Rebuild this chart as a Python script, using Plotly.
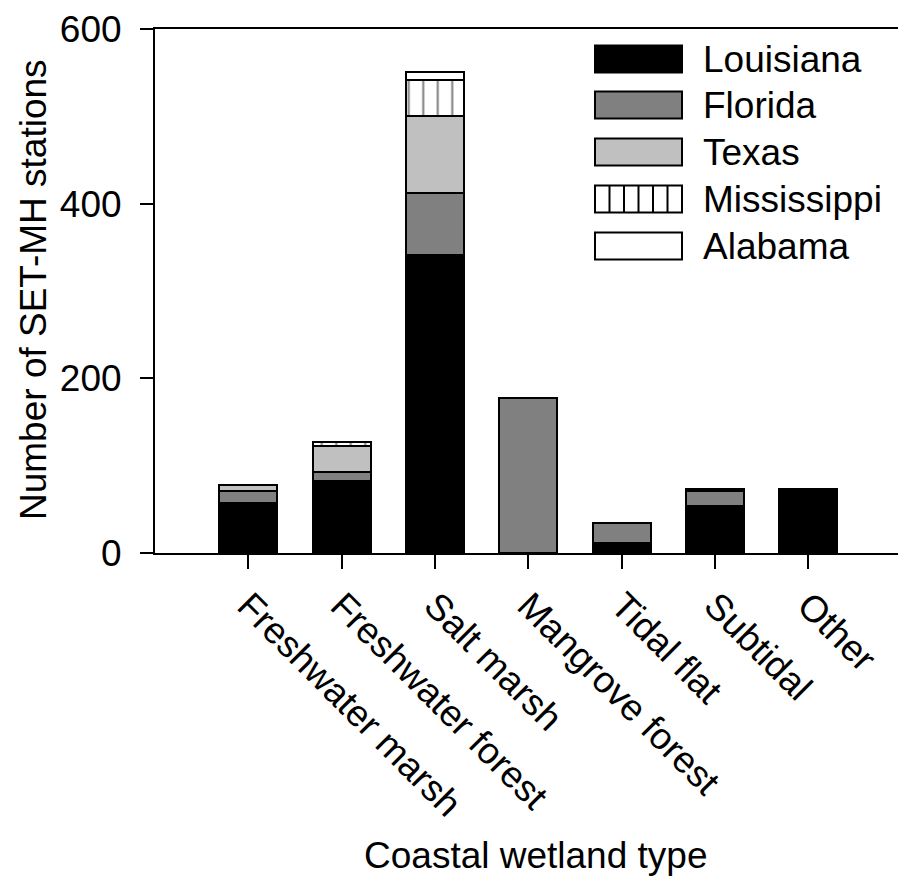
import plotly.graph_objects as go

categories = ["Freshwater marsh", "Freshwater forest", "Salt marsh", "Mangrove forest",
              "Tidal flat", "Subtidal", "Other"]
louisiana = [57, 82, 341, 0, 11, 54, 73]
florida = [14, 11, 71, 177, 23, 17, 0]
texas = [7, 29, 88, 1, 0, 2, 0]
mississippi = [0, 5, 42, 0, 0, 0, 0]
alabama = [0, 0, 9, 0, 0, 0, 0]
y_ticks = [0, 200, 400, 600]

series = [
    ("Louisiana", louisiana, "#000000", None),
    ("Florida", florida, "#808080", None),
    ("Texas", texas, "#c0c0c0", None),
    ("Mississippi", mississippi, "#ffffff", "|"),
    ("Alabama", alabama, "#ffffff", None),
]

W, H = 898, 876
L, R, T, B = 155, 0, 29, 323
PW, PH = W - L - R, H - T - B
FONT = "Liberation Sans, Arial, sans-serif"
FS = 37

fig = go.Figure()
for name, vals, col, pat in series:
    marker = dict(color=col, line=dict(color="black", width=2))
    if pat:
        marker["pattern"] = dict(shape=pat, size=14.5, solidity=0.14,
                                 fgcolor="black", bgcolor="white")
    fig.add_trace(go.Bar(x=categories, y=vals, name=name, marker=marker,
                         showlegend=False))


def px(xp):
    return (xp - L) / PW


def py(yp):
    return (H - B - yp) / PH


shapes = []
annotations = []
leg_x0, leg_x1 = 595, 682
row_centers = [59, 105, 152, 199, 246]
for (name, vals, col, pat), yc in zip(series, row_centers):
    shapes.append(dict(type="rect", xref="paper", yref="paper",
                       x0=px(leg_x0), x1=px(leg_x1), y0=py(yc + 13.5), y1=py(yc - 13.5),
                       fillcolor=col, line=dict(color="black", width=2)))
    if pat:
        xx = leg_x0 + 14.5
        while xx < leg_x1 - 1:
            shapes.append(dict(type="line", xref="paper", yref="paper",
                               x0=px(xx), x1=px(xx), y0=py(yc + 13.5), y1=py(yc - 13.5),
                               line=dict(color="black", width=2)))
            xx += 14.5
    annotations.append(dict(text=name, xref="paper", yref="paper", x=px(701), y=py(yc),
                            xanchor="left", yanchor="middle", showarrow=False,
                            font=dict(size=FS, color="black", family=FONT)))

annotations.append(dict(text="Coastal wetland type", xref="paper", yref="paper",
                        x=px(535), y=py(855), xanchor="center", yanchor="middle",
                        showarrow=False, font=dict(size=FS, color="black", family=FONT)))
annotations.append(dict(text="Number of SET-MH stations", xref="paper", yref="paper",
                        x=px(33), y=py(290), xanchor="center", yanchor="middle",
                        textangle=-90, showarrow=False,
                        font=dict(size=FS, color="black", family=FONT)))

fig.update_layout(
    barmode="stack", bargap=0.38,
    width=W, height=H,
    margin=dict(l=L, r=R, t=T, b=B, autoexpand=False),
    paper_bgcolor="white", plot_bgcolor="white",
    font=dict(family=FONT, size=FS, color="black"),
    shapes=shapes, annotations=annotations,
    xaxis=dict(range=[-1, 6.96], showline=True, linecolor="black", linewidth=2,
               mirror=True, ticks="outside", ticklen=14, tickwidth=2, tickcolor="black",
               tickangle=45, showgrid=False, zeroline=False, automargin=False,
               tickfont=dict(size=FS, family=FONT, color="black")),
    yaxis=dict(range=[0, 600], tickvals=y_ticks, showline=True, linecolor="black",
               linewidth=2, ticks="outside", ticklen=13, tickwidth=2, tickcolor="black",
               showgrid=False, zeroline=False, automargin=False, ticklabelstandoff=11,
               tickfont=dict(size=FS, family=FONT, color="black")),
)

fig.write_html("out.html", config={"displayModeBar": False},
               post_script="document.body.style.margin='0';document.body.style.padding='0';"
                           "document.body.style.overflow='hidden';")
